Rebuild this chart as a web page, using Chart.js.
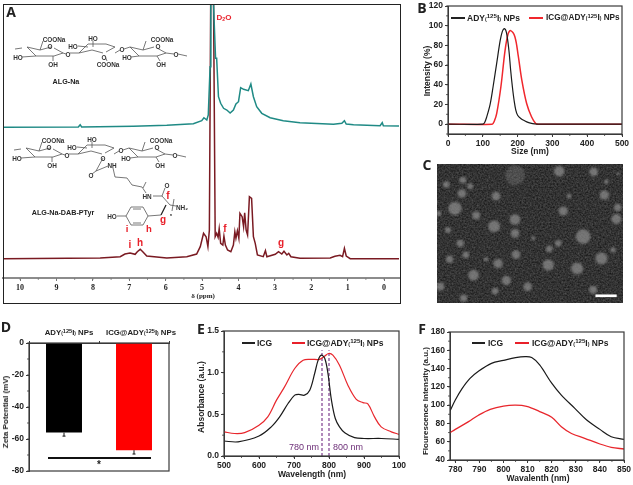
<!DOCTYPE html>
<html>
<head>
<meta charset="utf-8">
<script src="https://cdn.jsdelivr.net/npm/chart.js@4"></script>
<style>
html, body { margin:0; padding:0; background:#fff; }
#page { position:relative; width:633px; height:485px; overflow:hidden; font-family:"Liberation Sans",sans-serif; filter:blur(0.35px); }
canvas { position:absolute; }
svg { position:absolute; left:0; top:0; }
.t { position:absolute; white-space:nowrap; font-weight:bold; color:#222; line-height:1; }
.t sup { font-size:72%; line-height:0; vertical-align:0.38em; }
.t .p { font-size:62%; }
.t sub { font-size:65%; line-height:0; vertical-align:-0.2em; }
.r { position:absolute; }
</style>
</head>
<body>
<div id="page"></div>
<script>
// A: 1H NMR, ppm and height above the axis
const algPpm = [10.48,8.40,8.35,8.31,6.89,5.97,5.24,5.01,4.95,4.87,4.83,4.78,4.76,4.71,4.67,4.63,4.60,4.55,4.49,4.41,4.32,4.23,4.14,4.07,4.00,3.94,3.86,3.73,3.66,3.59,3.50,3.36,3.13,2.77,2.31,1.39,1.16,1.09,1.04,0.84,0.11,0.05,0.02,-0.41]
const algVal = [150.7,151,153.3,151,151.7,152.7,154.3,157.3,160.3,158,163,211.3,300,300,258,219.7,219.7,181.3,174.7,169.7,168,165,168,174,176.3,190.3,188.7,187.3,194,181.3,171.3,164.7,160.3,157.3,155.3,153.7,154.7,157.3,154,153.3,152.3,155.3,152.3,152]
const dabPpm = [10.48,7.80,7.25,7.12,6.98,6.84,6.78,6.70,6.63,6.52,5.97,5.42,5.15,5.05,4.96,4.89,4.84,4.80,4.76,4.69,4.64,4.60,4.56,4.53,4.49,4.43,4.40,4.36,4.30,4.21,4.14,4.10,4.07,4.03,3.99,3.96,3.90,3.86,3.83,3.79,3.75,3.70,3.64,3.59,3.54,3.48,3.32,3.26,3.22,2.99,2.90,2.81,2.75,2.67,2.62,2.56,2.31,1.48,1.35,1.21,1.14,1.09,1.04,0.93,-0.41]
const dabVal = [19.3,20,21.3,24,25,23.7,26.3,28.7,26.3,22,20,21.3,24,31.3,44.7,41.3,31.3,48,300,300,41.3,44.7,40.7,49.3,34.7,33,42,33,28,26.3,33,46.3,39.7,47.3,39.7,64.7,61.3,51.3,65.3,48,43,81.3,79.7,41.3,34.7,23,21.3,27.3,21.3,23.7,26.3,24,26.7,23,24.7,21.3,19.7,20,21.7,22.7,21.3,29.7,22,19.3,19.3]
const nmrTicks = [0,1,2,3,4,5,6,7,8,9,10]

// B: size distribution
const sizeAdy = [0,100,105,111,121,130,140,150,156,162,168,175,180,185,190,195,200,210,220,230,240,250,255,500]
const intAdy = [0,0,1.5,7,20,39,62,85,94,97,93,75,55,38,24,14,9,5.5,3.5,1.8,0.8,0.2,0,0]
const sizeIcg = [0,127,133,140,152,164,173,180,192,202,212,226,240,252,260,500]
const intIcg = [0,0,3,11,38,75,92,95,89,69,45,21,7.5,0.7,0,0]

// D: zeta potential
const zetaCats = ['ADY(125I) NPs','ICG@ADY(125I) NPs']
const zetaVal = [-56,-67]
const zetaErr = [2.2,2.4]

// E: absorbance
const wlIcgE = [500,540,600,635,659,683,702,714,730,745,759,769,778,788,797,807,818,830,845,873,900,950,1000]
const absIcg = [0.18,0.17,0.24,0.35,0.47,0.63,0.73,0.74,0.73,0.79,0.99,1.15,1.21,1.17,0.99,0.67,0.45,0.35,0.28,0.22,0.21,0.21,0.2]
const wlNpE = [500,530,559,600,625,650,673,702,726,750,773,788,799,811,830,854,878,897,911,930,949,978,1000]
const absNp = [0.29,0.27,0.28,0.37,0.47,0.67,0.83,1.05,1.15,1.16,1.16,1.2,1.23,1.21,1.09,0.85,0.68,0.64,0.625,0.47,0.35,0.29,0.26]
const absTickLabels = ['500','600','700','800','900','100']
const markerWl = [780,800]
const markerTop = 1.27

// F: fluorescence
const wlIcgF = [777.8,780,782.8,786,789.6,795,800,805,809,811.7,815,820,824,829.6,834.4,840,844.7,850]
const flIcg = [93.6,105.6,118,129,137,145.7,149,152,153,152,144,124,111,96.5,84,73.5,65.5,62.6]
const wlNpF = [777.8,780,785.5,789.6,794.5,800,805,809.6,815,820,824,828.2,833.7,840,844.7,850]
const flNp = [70,73.5,82,89,95.4,99,100,98.7,93,86.7,76.5,69,63.7,57.5,53.9,52]

const page = document.getElementById('page')
const tickFont = {family:'"Liberation Sans"', size:8.5, weight:'bold'}
const axisCol = '#3a3a3a'
const pad = {l:34, t:10, r:24, b:18}

const pts = (xs, ys) => xs.map((x, i) => ({x:x, y:ys[i]}))

// frame round the plot plus the small unlabelled ticks
const framePlugin = {
    id:'frame',
    afterDraw(chart, args, opts){
        const c = chart.ctx, a = chart.chartArea
        if(opts.box !== false){
            c.strokeStyle = axisCol
            c.lineWidth = 1.2
            c.strokeRect(a.left, a.top, a.width, a.height)
        }
        c.strokeStyle = opts.color || axisCol
        c.lineWidth = 0.8
        const xs = chart.scales.x, ys = chart.scales.y
        if(opts.minorX){
            for(let v = Math.ceil(xs.min/opts.minorX)*opts.minorX; v <= xs.max; v += opts.minorX){
                const p = xs.getPixelForValue(v)
                c.beginPath(); c.moveTo(p, a.bottom); c.lineTo(p, a.bottom+2); c.stroke()
            }
        }
        if(opts.minorY){
            for(let v = Math.ceil(ys.min/opts.minorY)*opts.minorY; v <= ys.max; v += opts.minorY){
                const p = ys.getPixelForValue(v)
                c.beginPath(); c.moveTo(a.left, p); c.lineTo(a.left-2, p); c.stroke()
            }
        }
    }
}
Chart.register(framePlugin)

function line(data, color, width, extra){
    return Object.assign({data:data, borderColor:color, borderWidth:width||1.2, pointRadius:0, fill:false, tension:0.35}, extra||{})
}

function axis(o){
    return Object.assign({
        type:'linear',
        grid:{drawOnChartArea:false, tickLength:3, tickColor:axisCol, tickWidth:1},
        border:{color:axisCol, width:1},
    }, o)
}

function mk(box, type, datasets, xOpt, yOpt, frame, labels){
    const cv = document.createElement('canvas')
    cv.width = box[2]-box[0]+pad.l+pad.r
    cv.height = box[3]-box[1]+pad.t+pad.b
    cv.style.left = (box[0]-pad.l)+'px'
    cv.style.top = (box[1]-pad.t)+'px'
    page.appendChild(cv)
    const onTop = xOpt.position == 'top'
    xOpt.afterFit = s => { s.height = onTop ? pad.t : pad.b }
    yOpt.afterFit = s => { s.width = pad.l }
    return new Chart(cv, {
        type:type,
        data:{labels:labels, datasets:datasets},
        options:{
            responsive:false,
            animation:false,
            parsing:type == 'bar' ? undefined : false,
            layout:{padding:{top:onTop ? 0 : pad.t, right:pad.r, left:0, bottom:onTop ? pad.b : 0}},
            plugins:{legend:{display:false}, tooltip:{enabled:false}, frame:frame||{}},
            scales:{x:xOpt, y:yOpt}
        }
    })
}

const xTicks = extra => Object.assign({font:tickFont, color:'#222', padding:2, autoSkip:false, maxRotation:0, includeBounds:false}, extra||{})
const yTicks = extra => Object.assign({font:tickFont, color:'#222', padding:2, autoSkip:false, includeBounds:false}, extra||{})

// A
mk([3,4,399,278], 'line',
    [line(pts(algPpm,algVal), '#1f8a85', 1.5, {tension:0}),
     line(pts(dabPpm,dabVal), '#7a1a22', 1.5, {tension:0})],
    axis({min:-0.41, max:10.47, reverse:true,
        grid:{drawOnChartArea:false, tickLength:3, tickColor:'#777', tickWidth:1},
        border:{color:'#8c8c8c', width:2},
        afterBuildTicks:s => { s.ticks = nmrTicks.map(v => ({value:v})) },
        ticks:xTicks({font:{family:'"Liberation Serif"', size:8, weight:'bold'}, padding:2})}),
    axis({min:0, max:274, grid:{display:false}, border:{display:false}, ticks:{display:false}}),
    {box:false, minorX:0.5, color:'#777'})

// B
mk([448,6,622,134], 'line',
    [line(pts(sizeAdy,intAdy), '#1a1a1a', 1.2),
     line(pts(sizeIcg,intIcg), '#f0272d', 1.5)],
    axis({min:0, max:500, ticks:xTicks({stepSize:100})}),
    axis({min:-10, max:120, afterBuildTicks:s => { s.ticks = [0,20,40,60,80,100,120].map(v => ({value:v})) }, ticks:yTicks()}),
    {minorX:50, minorY:10})

// D
const errorPlugin = {
    id:'zetaErrors',
    afterDatasetsDraw(chart){
        const c = chart.ctx, m = chart.getDatasetMeta(0), y = chart.scales.y
        if(chart.config.type != 'bar') return
        c.strokeStyle = '#111'
        c.lineWidth = 1
        m.data.forEach((bar, i) => {
            const p0 = y.getPixelForValue(zetaVal[i]), p1 = y.getPixelForValue(zetaVal[i]-zetaErr[i])
            c.beginPath()
            c.moveTo(bar.x, p0); c.lineTo(bar.x, p1)
            c.moveTo(bar.x-1.5, p1); c.lineTo(bar.x+1.5, p1)
            c.stroke()
        })
    }
}
Chart.register(errorPlugin)
mk([29,343,169,471], 'bar',
    [{data:zetaVal, backgroundColor:['#000','#ff0000'], barPercentage:0.514, categoryPercentage:1}],
    {type:'category', position:'top', grid:{drawOnChartArea:false, tickLength:2, tickColor:axisCol},
        border:{color:axisCol, width:1}, ticks:{display:false}},
    axis({min:-80, max:0, ticks:yTicks({stepSize:20})}),
    {minorY:10}, zetaCats)

// E
mk([224,331,399,456], 'line',
    [line(pts(wlIcgE,absIcg), '#1a1a1a', 1.2),
     line(pts(wlNpE,absNp), '#e8262c', 1.2),
     line(pts([markerWl[0],markerWl[0]],[0,markerTop]), '#7d3f8e', 1.2, {borderDash:[3,2], tension:0}),
     line(pts([markerWl[1],markerWl[1]],[0,markerTop]), '#7d3f8e', 1.2, {borderDash:[3,2], tension:0})],
    axis({min:500, max:1000, ticks:xTicks({stepSize:100, callback:(v,i) => absTickLabels[i]})}),
    axis({min:0, max:1.5, ticks:yTicks({stepSize:0.5, callback:v => v.toFixed(1)})}),
    {minorX:50, minorY:0.25})

// F
mk([450,332,624,460], 'line',
    [line(pts(wlIcgF,flIcg), '#1a1a1a', 1.2),
     line(pts(wlNpF,flNp), '#e8262c', 1.3)],
    axis({min:777.8, max:850, ticks:xTicks({stepSize:10})}),
    axis({min:40, max:180, ticks:yTicks({stepSize:20})}),
    {minorX:5, minorY:10})

// text and small marks laid over the plots
function lbl(html, x, y, o){
    o = o||{}
    const d = document.createElement('div')
    d.className = 't'
    d.innerHTML = html
    d.style.left = x+'px'
    d.style.top = y+'px'
    d.style.fontSize = (o.size||9)+'px'
    if(o.color) d.style.color = o.color
    if(o.font) d.style.fontFamily = o.font
    if(o.normal) d.style.fontWeight = 'normal'
    const ax = o.left ? '0' : '-50%'
    d.style.transform = `translate(${ax},-50%)` + (o.rot ? ` rotate(${o.rot}deg)` : '')
    page.appendChild(d)
}
function rule(x1, x2, y, color, h){
    const d = document.createElement('div')
    d.className = 'r'
    d.style.cssText = `left:${x1}px;top:${y-(h||1.2)/2}px;width:${x2-x1}px;height:${h||1.2}px;background:${color}`
    page.appendChild(d)
}

const ady = 'ADY<span class="p">(</span><sup>125</sup>I<span class="p">)</span> NPs'
const icgAdy = 'ICG@' + ady
const red = '#e8202a', purple = '#6d2f78'
const letter = '"Open Sans","Liberation Sans",sans-serif'

// outer box of A
const boxA = document.createElement('div')
boxA.style.cssText = 'position:absolute;left:2.5px;top:3.5px;width:396px;height:298px;border:1px solid #222'
page.appendChild(boxA)

lbl('A', 11, 12, {size:14, font:letter})
lbl('B', 422, 8, {size:14, font:letter})
lbl('C', 427, 165, {size:14, font:letter})
lbl('D', 6, 327, {size:14, font:letter})
lbl('E', 201, 329, {size:14, font:letter})
lbl('F', 422, 329, {size:14, font:letter})

lbl('D<sub>2</sub>O', 224, 18, {size:8, color:red})
lbl('ALG-Na', 66, 82, {size:7.2})
lbl('ALG-Na-DAB-PTyr', 63, 213, {size:7.2})
lbl('δ (ppm)', 203, 296, {size:7, font:'"Liberation Serif"'})
lbl('i', 130, 245, {size:10, color:red})
lbl('h', 140, 243, {size:10, color:red})
lbl('f', 225, 229, {size:10, color:red})
lbl('g', 281, 243, {size:10, color:red})
lbl('i', 127, 229, {size:9.5, color:red})
lbl('h', 149, 229, {size:9.5, color:red})
lbl('g', 163, 220, {size:10, color:red})
lbl('f', 168, 196, {size:10, color:red})

lbl('Intensity (%)', 427, 71, {rot:-90, size:8.5})
lbl('Size (nm)', 530, 151, {size:8.5})
rule(451,465,18,'#222'); lbl(ady, 467, 18, {left:1, size:8.5})
rule(529,543,18,'#f0272d'); lbl(icgAdy, 546, 18, {left:1, size:8.2})

lbl('Zeta Potential (mV)', 6, 412, {rot:-90, size:8})
lbl(ady, 69, 333, {size:7.8})
lbl(icgAdy, 141, 333, {size:7.8})
rule(48,151,458,'#111')
lbl('*', 99, 465, {size:10})

lbl('Absorbance (a.u.)', 201, 397, {rot:-90, size:8.5})
lbl('Wavelength (nm)', 312, 474, {size:8.5})
rule(242,255,343,'#222'); lbl('ICG', 257, 343, {left:1, size:8.5})
rule(292,305,343,red); lbl(icgAdy, 307, 343, {left:1, size:8.5})
lbl('780 nm', 304, 447, {size:9, color:purple, normal:1})
lbl('800 nm', 348, 447, {size:9, color:purple, normal:1})

lbl('Flourescence Intensity (a.u.)', 426, 401, {rot:-90, size:8})
lbl('Wavalenth (nm)', 538, 478, {size:8.5})
rule(472,485,343,'#222'); lbl('ICG', 488, 343, {left:1, size:8.5})
rule(515,529,343,red); lbl(icgAdy, 532, 343, {left:1, size:8.5})

// chemical structures and the TEM picture
const NS = 'http://www.w3.org/2000/svg'
function svgEl(parent, name, attrs, text){
    const e = document.createElementNS(NS, name)
    for(const k in attrs) e.setAttribute(k, attrs[k])
    if(text) e.textContent = text
    parent.appendChild(e)
    return e
}
const chem = svgEl(page, 'svg', {width:633, height:485})
const bond = (pts, w) => svgEl(chem, 'polyline', {points:pts.map(p => p.join(',')).join(' '), fill:'none', stroke:w ? '#222' : '#555', 'stroke-width':w||0.8})
const atom = (t, x, y, s) => svgEl(chem, 'text', {x:x, y:y, 'font-size':s||6.4, 'font-weight':'bold', fill:'#333', 'text-anchor':'middle', 'dominant-baseline':'central'}, t)

function ring(cx, cy, f){
    const p = (x, y) => [cx+x, cy+y*f]
    bond([p(6,-3),p(-5,0),p(-18,-3),p(-9,6),p(9,6),p(18,3),p(9,-2)])
}
function chain(dx, dy, amide){
    ring(45+dx,50+dy,1); ring(97+dx,50+dy,-1); ring(148+dx,50+dy,1)
    const labels = [['COONa',54,39],['O',50,46],['HO',18,57],['OH',53,64],['O',68,54],['HO',73,46],['HO',93,38],['O',104,57],
        ['O',122,49],['COONa',162,39],['O',158,46],['HO',127,57],['OH',161,64],['O',176,54]]
    if(!amide) labels.push(['COONa',108,64])
    labels.forEach(l => atom(l[0], l[1]+dx, l[2]+dy))
    const b = [[[40,50],[43,41]],[[36,56],[22,57]],[[53,56],[53,61]],[[63,53],[66,54]],[[70,53],[79,53]],[[78,46],[88,47]],[[93,41],[93,47]],
        [[115,53],[120,50]],[[124,49],[130,47]],[[143,50],[146,41]],[[139,56],[131,57]],[[157,56],[160,61]],[[166,53],[174,54]],[[178,54],[187,56]],[[15,49],[22,48]]]
    if(!amide) b.push([[105,56],[107,61]])
    b.forEach(s => bond(s.map(q => [q[0]+dx,q[1]+dy])))
}
chain(0,0,false)
chain(-1,101,true)
// DAB and PTyr side chain of the lower structure
bond([[103,158],[96,171],[92,174]]); bond([[96,171],[108,166]])
atom('NH',112,165); atom('O',91,175)
bond([[113,168],[115,177],[127,178],[132,185],[142,187],[146,193]])
atom('HN',147,196); atom('O',167,185); atom('NH₂',182,207); atom('HO',112,216)
bond([[153,196],[162,196],[170,205],[176,206]])
bond([[162,196],[165,188]])
bond([[166,205],[161,215]], 1.3)
bond([[161,215],[148,216],[143,207],[131,207],[126,216],[131,225],[143,225],[148,216]])
bond([[117,216],[126,216]]); bond([[133,209],[141,209]]); bond([[133,223],[141,223]])
bond([[174,199],[172,211]]); bond([[143,188],[146,182]])
atom('n',171,214,4)

// TEM image, blobs in crop units of the viewBox
const temBlobs = [[285,75,30,0.3],[418,63,16],[522,65,13],[78,103,10],[128,90,10],[150,108,9],[125,130,13],[228,138,13],[554,135,14],[104,175,20],
    [168,196,12],[285,208,16],[222,229,18],[430,183,14],[594,172,11],[590,207,15],[83,240,9],[285,250,13],[490,260,22],[120,280,11],[415,280,10],
    [388,297,10],[137,315,10],[288,314,13],[88,328,11],[234,341,14],[545,326,18],[385,345,17],[472,356,18],[160,376,16],[259,392,14],[323,411,13],
    [225,424,10],[60,410,12],[130,445,11],[580,300,8],[340,265,6],[198,328,7],[55,190,8],[520,420,12],[448,138,7],[560,95,7],[595,70,5]]
const tem = svgEl(page, 'svg', {width:186, height:139, viewBox:'50 43 560 415'})
tem.style.left = '437px'
tem.style.top = '164px'
const defs = svgEl(tem, 'defs', {})
const noise = svgEl(defs, 'filter', {id:'grain', x:0, y:0, width:'100%', height:'100%', 'color-interpolation-filters':'sRGB'})
svgEl(noise, 'feTurbulence', {type:'fractalNoise', baseFrequency:0.2, numOctaves:2, seed:7})
svgEl(noise, 'feColorMatrix', {values:'0.3 0 0 0 0.05 0.3 0 0 0 0.05 0.3 0 0 0 0.05 0 0 0 0 1'})
svgEl(svgEl(defs, 'filter', {id:'soft'}), 'feGaussianBlur', {stdDeviation:3})
svgEl(tem, 'rect', {x:50, y:43, width:560, height:415, filter:'url(#grain)'})
temBlobs.forEach(b => svgEl(tem, 'circle', {cx:b[0], cy:b[1], r:b[2], fill:'#909090', opacity:b[3]||0.7, filter:'url(#soft)'}))
svgEl(tem, 'rect', {x:527, y:434, width:64, height:8, fill:'#fff'})
</script>
</body>
</html>
